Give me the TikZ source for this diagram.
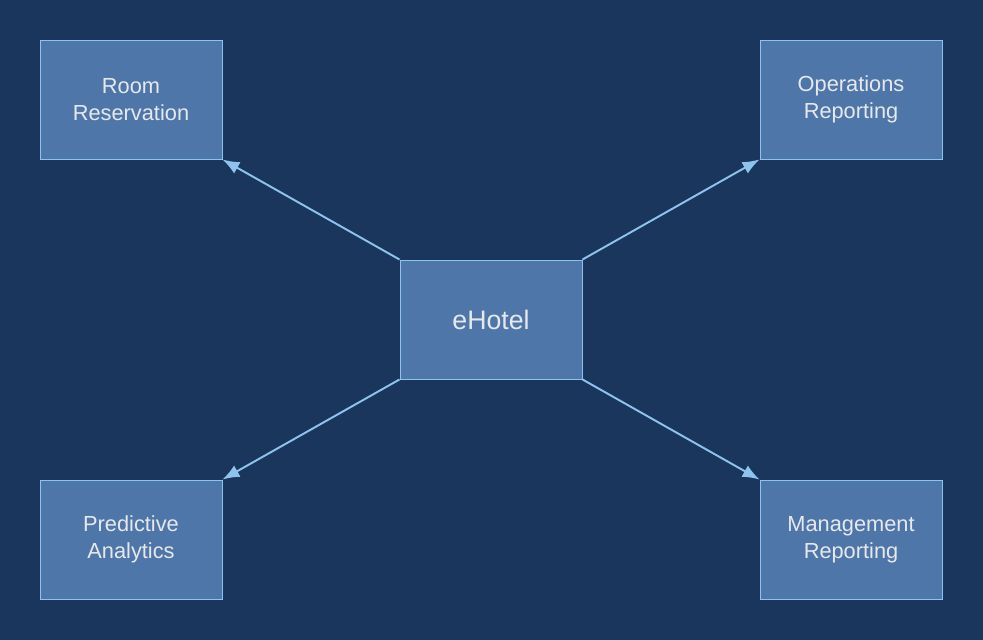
\documentclass[tikz,border=0pt]{standalone}
\usepackage{fontspec}
\setmainfont{Liberation Sans}
\usetikzlibrary{arrows.meta}
\definecolor{bgblue}{HTML}{1B365D}
\definecolor{boxblue}{HTML}{4F76A8}
\definecolor{edgeblue}{HTML}{8EC3EE}
\definecolor{labelgray}{HTML}{E6E8EC}
\tikzset{
  module/.style={draw=edgeblue, line width=0.5pt, fill=boxblue, minimum width=3.64cm, minimum height=2.38cm, align=center, text=labelgray, font=\fontsize{12.4}{15.3}\selectfont},
  link/.style={draw=edgeblue, line width=1.1pt, -{Latex[length=0.34cm,width=0.26cm]}}
}
\begin{document}
\begin{tikzpicture}
\fill[bgblue] (0,0) rectangle (19.66,-12.8);
\useasboundingbox (0,0) rectangle (19.66,-12.8);

%hub
\node[module, font=\fontsize{15.2}{18}\selectfont] (hotel) at (9.82,-6.39) {eHotel};

%modules
\node[module] (reserve) at (2.62,-1.99) {Room\\Reservation};
\node[module] (opsrep) at (17.02,-1.99) {Operations\\Reporting};
\node[module] (predict) at (2.62,-10.79) {Predictive\\Analytics};
\node[module] (mgmtrep) at (17.02,-10.79) {Management\\Reporting};

\draw[link] (hotel.north west) -- (reserve.south east);
\draw[link] (hotel.north east) -- (opsrep.south west);
\draw[link] (hotel.south west) -- (predict.north east);
\draw[link] (hotel.south east) -- (mgmtrep.north west);
\end{tikzpicture}
\end{document}
